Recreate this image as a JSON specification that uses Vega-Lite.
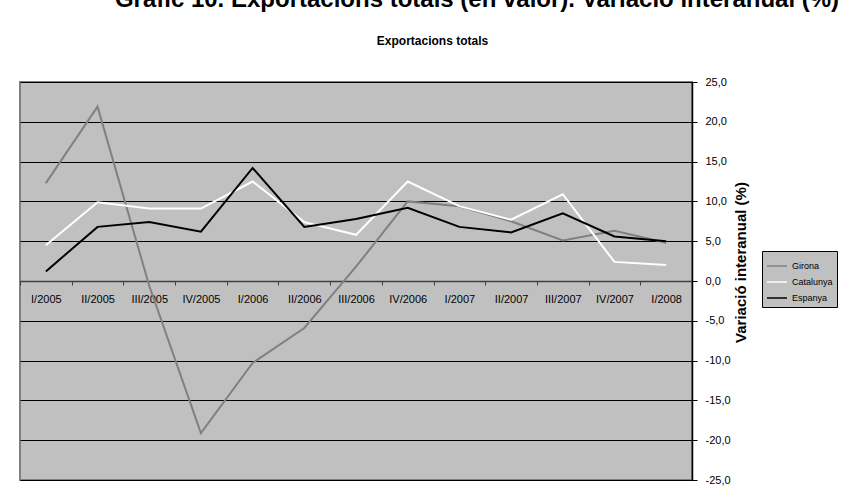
{
  "$schema": "https://vega.github.io/schema/vega-lite/v6.json",
  "width": 672,
  "height": 398,
  "autosize": {"type": "none"},
  "padding": {"left": 20, "top": 82, "right": 150, "bottom": 17},
  "background": "white",
  "title": {
    "text": "Gràfic 10. Exportacions totals (en valor). Variació interanual (%)",
    "font": "Liberation Sans",
    "fontSize": 24,
    "fontWeight": "bold",
    "color": "black",
    "anchor": "middle",
    "frame": "group",
    "baseline": "alphabetic",
    "dx": 121,
    "dy": 16,
    "offset": 19
  },
  "config": {
    "font": "Liberation Sans",
    "view": {"fill": "#C0C0C0", "stroke": "#808080", "strokeWidth": 2}
  },
  "data": {
    "values": [
      {"q": "I/2005", "serie": "Girona", "v": 12.3},
      {"q": "II/2005", "serie": "Girona", "v": 21.9},
      {"q": "III/2005", "serie": "Girona", "v": -0.6},
      {"q": "IV/2005", "serie": "Girona", "v": -19.1},
      {"q": "I/2006", "serie": "Girona", "v": -10.3},
      {"q": "II/2006", "serie": "Girona", "v": -5.9},
      {"q": "III/2006", "serie": "Girona", "v": 1.8},
      {"q": "IV/2006", "serie": "Girona", "v": 10.0},
      {"q": "I/2007", "serie": "Girona", "v": 9.4},
      {"q": "II/2007", "serie": "Girona", "v": 7.5},
      {"q": "III/2007", "serie": "Girona", "v": 5.1},
      {"q": "IV/2007", "serie": "Girona", "v": 6.3},
      {"q": "I/2008", "serie": "Girona", "v": 4.8},
      {"q": "I/2005", "serie": "Catalunya", "v": 4.5},
      {"q": "II/2005", "serie": "Catalunya", "v": 9.9},
      {"q": "III/2005", "serie": "Catalunya", "v": 9.1},
      {"q": "IV/2005", "serie": "Catalunya", "v": 9.1},
      {"q": "I/2006", "serie": "Catalunya", "v": 12.5},
      {"q": "II/2006", "serie": "Catalunya", "v": 7.4},
      {"q": "III/2006", "serie": "Catalunya", "v": 5.8},
      {"q": "IV/2006", "serie": "Catalunya", "v": 12.5},
      {"q": "I/2007", "serie": "Catalunya", "v": 9.4},
      {"q": "II/2007", "serie": "Catalunya", "v": 7.7},
      {"q": "III/2007", "serie": "Catalunya", "v": 10.9},
      {"q": "IV/2007", "serie": "Catalunya", "v": 2.4},
      {"q": "I/2008", "serie": "Catalunya", "v": 2.0},
      {"q": "I/2005", "serie": "Espanya", "v": 1.2},
      {"q": "II/2005", "serie": "Espanya", "v": 6.8},
      {"q": "III/2005", "serie": "Espanya", "v": 7.4},
      {"q": "IV/2005", "serie": "Espanya", "v": 6.2},
      {"q": "I/2006", "serie": "Espanya", "v": 14.2},
      {"q": "II/2006", "serie": "Espanya", "v": 6.8},
      {"q": "III/2006", "serie": "Espanya", "v": 7.8},
      {"q": "IV/2006", "serie": "Espanya", "v": 9.2},
      {"q": "I/2007", "serie": "Espanya", "v": 6.8},
      {"q": "II/2007", "serie": "Espanya", "v": 6.1},
      {"q": "III/2007", "serie": "Espanya", "v": 8.5},
      {"q": "IV/2007", "serie": "Espanya", "v": 5.6},
      {"q": "I/2008", "serie": "Espanya", "v": 5.0}
    ]
  },
  "mark": {"type": "line", "strokeWidth": 2},
  "encoding": {
    "x": {
      "field": "q",
      "type": "ordinal",
      "sort": null,
      "scale": {"paddingInner": 0, "paddingOuter": 0},
      "axis": {
        "orient": "bottom",
        "offset": {"expr": "scale('y', 0) - height"},
        "domainColor": "#404040",
        "domainWidth": 1.5,
        "tickBand": "extent",
        "tickColor": "#404040",
        "tickSize": 4,
        "labelAngle": 0,
        "labelFontSize": 11,
        "labelColor": "black",
        "labelPadding": 8,
        "grid": false,
        "title": "Exportacions totals",
        "titleFontSize": 12,
        "titleFontWeight": "bold",
        "titleColor": "black",
        "titleX": 412,
        "titleY": -241,
        "titleBaseline": "middle",
        "titleAlign": "center"
      }
    },
    "y": {
      "field": "v",
      "type": "quantitative",
      "scale": {"domain": [-25, 25], "nice": false, "zero": false},
      "axis": {
        "orient": "right",
        "values": [-25, -20, -15, -10, -5, 0, 5, 10, 15, 20, 25],
        "labelExpr": "replace(replace(format(datum.value, '.1f'), '.', ','), '−', '-')",
        "domainColor": "black",
        "domainWidth": 1.5,
        "tickColor": "black",
        "tickSize": 5,
        "labelPadding": 8,
        "labelFontSize": 11,
        "labelColor": "black",
        "grid": true,
        "gridColor": "black",
        "gridWidth": 1,
        "gridOpacity": 1,
        "title": "Variació interanual (%)",
        "titleFontSize": 15,
        "titleFontWeight": "bold",
        "titleColor": "black",
        "titleAngle": 270,
        "titleX": 48,
        "titleY": 180,
        "titleAlign": "center",
        "titleBaseline": "middle"
      }
    },
    "color": {
      "field": "serie",
      "type": "nominal",
      "sort": null,
      "scale": {"domain": ["Girona", "Catalunya", "Espanya"], "range": ["#808080", "#ffffff", "#000000"]},
      "legend": {
        "orient": "none",
        "legendX": 742,
        "legendY": 169,
        "title": null,
        "symbolType": "stroke",
        "symbolStrokeWidth": 1.5,
        "symbolSize": 400,
        "fillColor": "#C0C0C0",
        "strokeColor": "black",
        "padding": 4,
        "labelFontSize": 9,
        "labelColor": "black",
        "labelOffset": 4,
        "rowPadding": -1
      }
    }
  }
}
